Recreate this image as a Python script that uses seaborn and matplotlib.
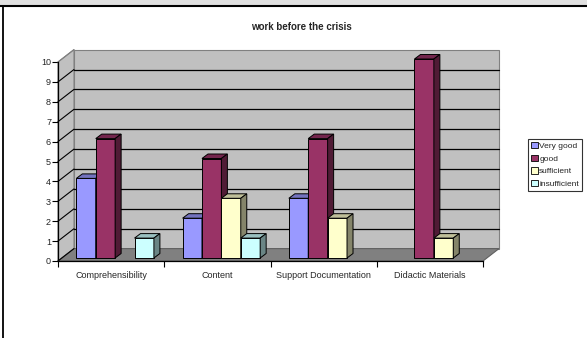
import numpy as np
import pandas as pd
import seaborn as sns
import matplotlib
matplotlib.use("Agg")
import matplotlib.pyplot as plt
from matplotlib.patches import Polygon, Rectangle, Patch
from matplotlib.lines import Line2D
from matplotlib.transforms import ScaledTranslation

# ---------------- data ----------------
categories = ["Comprehensibility", "Content", "Support Documentation", "Didactic Materials"]
ratings = ["Very good", "good", "sufficient", "insufficient"]
very_good = [4, 2, 3, 0]
good = [6, 5, 6, 10]
sufficient = [0, 3, 2, 1]
insufficient = [1, 1, 0, 0]
colors = ["#9999FF", "#993366", "#FFFFCC", "#CCFFFF"]
title = "work before the crisis"

df = pd.DataFrame({
    "category": categories * 4,
    "rating": [r for r in ratings for _ in categories],
    "value": very_good + good + sufficient + insufficient,
})

# ---------------- style ----------------
sns.set_style("white")
plt.rcParams["font.family"] = ["Liberation Sans", "DejaVu Sans"]

W, H = 587, 338
fig = plt.figure(figsize=(W / 100, H / 100), dpi=100)
AX_L, AX_R, AX_B, AX_T = 58, 483, 261, 62
ax = fig.add_axes([AX_L / W, 1 - AX_B / H, (AX_R - AX_L) / W, (AX_B - AX_T) / H])

sns.barplot(data=df, x="category", y="value", hue="rating", order=categories,
            hue_order=ratings, palette=colors, saturation=1, width=0.73,
            edgecolor="black", linewidth=0.7, legend=False, ax=ax)

ax.set_xlim(-0.5, 3.5)
ax.set_ylim(0, 10)
ux = 4 / (AX_R - AX_L)
uy = 10 / (AX_B - AX_T)


def px(dx, dy):
    return dx * ux, dy * uy


WX, WY = px(16, 12.4)     # depth of the walls
DX, DY = px(6, 4.5)       # depth of each bar
shift = ax.transData + ScaledTranslation(4 / 100, 3 / 100, fig.dpi_scale_trans)

# walls & floor
ax.add_patch(Rectangle((-0.5 + WX, WY), 4, 10, fc="#c0c0c0", ec="#808080",
                       lw=0.8, zorder=0.5, clip_on=False))
ax.add_patch(Polygon([(-0.5, 0), (-0.5, 10), (-0.5 + WX, 10 + WY), (-0.5 + WX, WY)],
                     closed=True, fc="#c0c0c0", ec="#808080", lw=0.8, zorder=0.5, clip_on=False))
ax.add_patch(Polygon([(-0.5, 0), (3.5, 0), (3.5 + WX, WY), (-0.5 + WX, WY)],
                     closed=True, fc="#808080", ec="#606060", lw=0.8, zorder=0.6, clip_on=False))
for v in range(1, 10):
    ax.plot([-0.5 + WX, 3.5 + WX], [v + WY, v + WY], color="black", lw=0.9,
            zorder=0.7, clip_on=False)
for v in range(0, 11):
    ax.plot([-0.5, -0.5 + WX], [v, v + WY], color="black" if v < 10 else "#808080",
            lw=0.8, zorder=0.7, clip_on=False)


def shade(c, f):
    rgb = np.array(matplotlib.colors.to_rgb(c))
    return tuple(np.clip(rgb * f, 0, 1))


# 3D bars
bars = []
for hi, cont in enumerate(ax.containers):
    for b in cont:
        bars.append((b, colors[hi]))
bars.sort(key=lambda t: t[0].get_x())
for k, (b, col) in enumerate(bars):
    z = 2 + k * 0.01
    h = b.get_height()
    if h <= 0:
        b.set_visible(False)
        continue
    b.set_transform(shift)
    b.set_zorder(z)
    b.set_clip_on(False)
    x0 = b.get_x()
    x1 = x0 + b.get_width()
    top = Polygon([(x0, h), (x1, h), (x1 + DX, h + DY), (x0 + DX, h + DY)], closed=True,
                  fc=shade(col, 0.75), ec="black", lw=0.7, zorder=z, transform=shift, clip_on=False)
    side = Polygon([(x1, 0), (x1, h), (x1 + DX, h + DY), (x1 + DX, DY)], closed=True,
                   fc=shade(col, 0.52), ec="black", lw=0.7, zorder=z, transform=shift, clip_on=False)
    ax.add_patch(top)
    ax.add_patch(side)

# axes
ax.patch.set_visible(False)
for s in ["top", "right"]:
    ax.spines[s].set_visible(False)
for s in ["left", "bottom"]:
    ax.spines[s].set_color("black")
    ax.spines[s].set_linewidth(0.9)
    ax.spines[s].set_zorder(3)
ax.set_yticks(range(11))
ax.set_xticks(range(4))
ax.set_xticklabels(categories)
ax.set_xticks([-0.5, 0.5, 1.5, 2.5, 3.5], minor=True)
ax.tick_params(axis="y", length=4, width=0.8, color="black", labelsize=6.5, pad=1,
               direction="out", left=True)
ax.tick_params(axis="x", which="major", length=0, labelsize=6.5, pad=7)
ax.tick_params(axis="x", which="minor", length=4, width=0.8, color="black",
               direction="out", bottom=True)
ax.set_xlabel("")
ax.set_ylabel("")

fig.text(301 / W, 1 - 27 / H, title, ha="center", va="center", fontsize=7, fontweight="bold")

handles = [Patch(fc=c, ec="black", lw=0.6) for c in colors]
leg = fig.legend(handles, ratings, loc="upper left", bbox_to_anchor=(528 / W, 1 - 139 / H),
                 frameon=True, fancybox=False, edgecolor="black", fontsize=6,
                 handlelength=0.8, handleheight=0.8, handletextpad=0.2, borderpad=0.35,
                 labelspacing=0.55, borderaxespad=0)
leg.get_frame().set_linewidth(0.8)

# outer frame
fig.patches.append(Rectangle((0, 1 - 5 / H), 1, 5 / H, transform=fig.transFigure,
                             fc="#e0e0e0", ec="none", zorder=0))
fig.add_artist(Line2D([0, 1], [1 - 6 / H, 1 - 6 / H], lw=1.5, color="black",
                      transform=fig.transFigure))
fig.add_artist(Line2D([2.5 / W, 2.5 / W], [0, 1 - 6 / H], lw=1.3, color="black",
                      transform=fig.transFigure))

fig.savefig("out.png", dpi=100)
